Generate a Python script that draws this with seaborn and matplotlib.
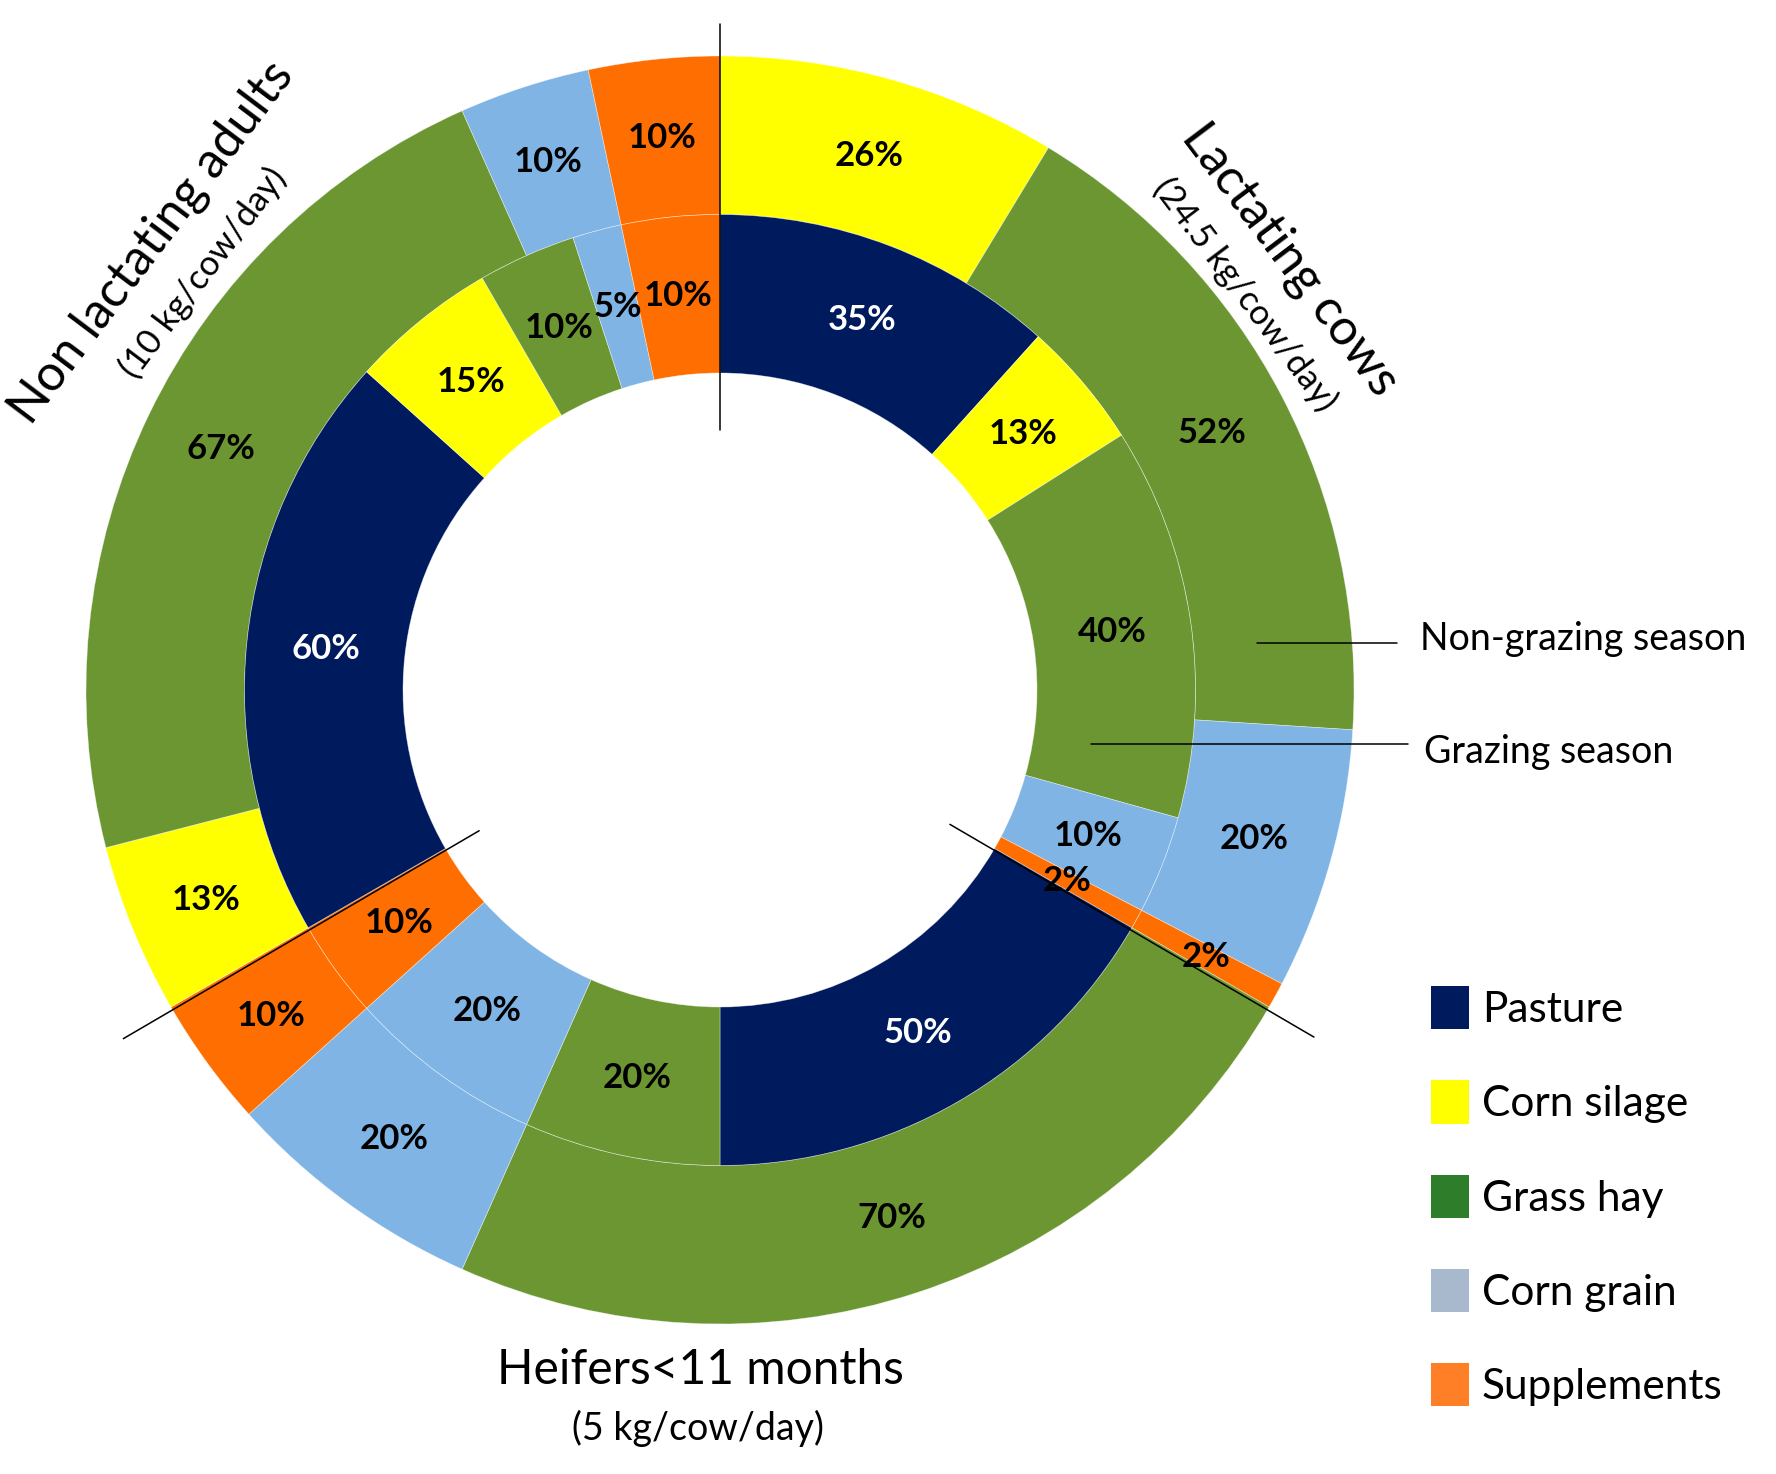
import numpy as np
import pandas as pd
import seaborn as sns
import matplotlib.pyplot as plt
from matplotlib.patches import Patch

# data (percent of ration, clockwise from 12 o'clock)
groups = ["Lactating cows", "Heifers<11 months", "Non lactating adults"]
feeds = ["Pasture", "Corn silage", "Grass hay", "Corn grain", "Supplements"]

grazing_lactating = [35, 13, 40, 10, 2]
grazing_heifers = [50, 0, 20, 20, 10]
grazing_nonlactating = [60, 15, 10, 5, 10]

nongrazing_lactating = [0, 26, 52, 20, 2]
nongrazing_heifers = [0, 0, 70, 20, 10]
nongrazing_nonlactating = [0, 13, 67, 10, 10]

group_intake = ["(24.5 kg/cow/day)", "(5 kg/cow/day)", "(10 kg/cow/day)"]

ring_colors = {"Pasture": "#001A5E", "Corn silage": "#FFFF00", "Grass hay": "#6B9632",
               "Corn grain": "#7FB4E4", "Supplements": "#FF6E00"}
legend_colors = {"Pasture": "#001A5E", "Corn silage": "#FFFF00", "Grass hay": "#2E7D2A",
                 "Corn grain": "#A8B9CD", "Supplements": "#FF7F27"}

rows = []
for season, vals in [("Grazing season", [grazing_lactating, grazing_heifers, grazing_nonlactating]),
                     ("Non-grazing season", [nongrazing_lactating, nongrazing_heifers, nongrazing_nonlactating])]:
    for g, v in zip(groups, vals):
        for f, s in zip(feeds, v):
            rows.append({"season": season, "group": g, "feed": f, "share": s})
df = pd.DataFrame(rows)

sns.set_theme(style="white")
plt.rcParams['font.family'] = ['Lato', 'DejaVu Sans']
plt.rcParams['text.color'] = 'black'

W, H = 1776, 1474
cx, cy, R = 720, 690, 634
fig = plt.figure(figsize=(W / 100, H / 100), dpi=100)
ax = fig.add_axes([0, 0, 1, 1])

for season, radius in [("Non-grazing season", 1.0), ("Grazing season", 0.75)]:
    sub = df[(df.season == season) & (df.share > 0)].reset_index(drop=True)
    wedges, _ = ax.pie(sub.share, radius=radius, startangle=90, counterclock=False,
                       colors=[ring_colors[f] for f in sub.feed],
                       wedgeprops=dict(width=0.25, edgecolor=(1, 1, 1, 0.5), linewidth=0.5))
    for w, row in zip(wedges, sub.itertuples()):
        a = np.deg2rad((w.theta1 + w.theta2) / 2)
        r = radius - 0.125
        ax.text(r * np.cos(a), r * np.sin(a), f"{row.share}%", ha="center", va="center",
                fontsize=25, fontweight="bold",
                color="white" if row.feed == "Pasture" else "black")

# group dividers
for ang, r0, r1 in [(90, 0.41, 1.05), (-30.3, 0.42, 1.085), (210.3, 0.44, 1.09)]:
    a = np.deg2rad(ang)
    ax.plot([r0 * np.cos(a), r1 * np.cos(a)], [r0 * np.sin(a), r1 * np.sin(a)],
            color="black", lw=1.1)

# pixel position -> data units
def px(x, y):
    return (x - cx) / R, (cy - y) / R

# group titles
for name, sub_txt, (tx, ty), (sx, sy), rot, fs1, fs2 in [
        (groups[0], group_intake[0], (1290, 260), (1245, 295), -53, 36, 25),
        (groups[2], group_intake[2], (152, 242), (203, 273), 53, 36, 25),
        (groups[1], group_intake[1], (700, 1370), (698, 1428), 0, 34.5, 27)]:
    ax.text(*px(tx, ty), name, fontsize=fs1, rotation=rot, rotation_mode="anchor",
            ha="center", va="center")
    ax.text(*px(sx, sy), sub_txt, fontsize=fs2, rotation=rot, rotation_mode="anchor",
            ha="center", va="center")

# ring annotations
ax.plot([px(1257, 0)[0], px(1397, 0)[0]], [px(0, 643)[1]] * 2, color="black", lw=1.1)
ax.text(*px(1420, 639), "Non-grazing season", fontsize=27, ha="left", va="center")
ax.plot([px(1091, 0)[0], px(1408, 0)[0]], [px(0, 744)[1]] * 2, color="black", lw=1.1)
ax.text(*px(1424, 752), "Grazing season", fontsize=27, ha="left", va="center")

handles = [Patch(facecolor=legend_colors[f], edgecolor="none", label=f) for f in feeds]
ax.legend(handles=handles, loc="upper left", bbox_to_anchor=(1431 / W, 1 - 986 / H),
          bbox_transform=fig.transFigure, frameon=False, fontsize=30.5,
          handlelength=0.9, handleheight=1.2, labelspacing=1.2, handletextpad=0.3,
          borderpad=0, borderaxespad=0)

ax.set_xlim(-cx / R, (W - cx) / R)
ax.set_ylim((cy - H) / R, cy / R)
ax.set_aspect("auto")
ax.axis("off")

fig.savefig("out.png", dpi=100, facecolor="white")
